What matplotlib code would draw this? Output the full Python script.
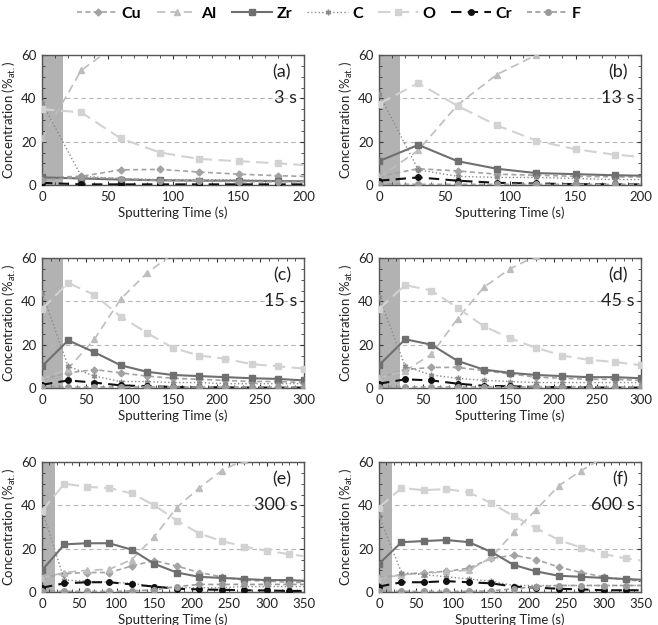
import matplotlib
matplotlib.use("Agg")
import matplotlib.pyplot as plt
from matplotlib.ticker import MultipleLocator

plt.rcParams['font.family'] = ['Lato', 'DejaVu Sans']

# sputtering times (last point lies just past the axis end, line gets clipped)
t_a = [0, 30, 60, 90, 120, 150, 180, 210]
t_c = [0, 30, 60, 90, 120, 150, 180, 210, 240, 270, 300]
t_e = [0, 30, 60, 90, 120, 150, 180, 210, 240, 270, 300, 330, 360]

elements = ["Cu", "Al", "Zr", "C", "O", "Cr", "F"]

panel_a = {
    "Cu": [3.5, 4, 7, 7.2, 6, 5, 4.3, 3.8],
    "Al": [21.5, 53, 66, 71, 74, 76, 77, 78],
    "Zr": [3.5, 3, 2.5, 2.2, 2, 2, 1.8, 1.7],
    "C": [38, 4, 3, 2.5, 2.5, 2.3, 2, 2],
    "O": [35, 33.5, 21.5, 15, 12, 11, 10, 8.8],
    "Cr": [1, 0.3, 0.3, 0.3, 0.3, 0.3, 0.3, 0.3],
    "F": [2.5, 3.5, 3, 2, 2, 1.5, 1.5, 1.5],
}
panel_b = {
    "Cu": [4, 7.5, 6.5, 5, 4.5, 4, 3.8, 3.6],
    "Al": [3.5, 16, 37, 51, 60, 65, 68, 70],
    "Zr": [11, 18.5, 11, 7.5, 5.5, 5, 4.5, 4.2],
    "C": [42, 7, 4, 3.5, 3.5, 3, 2.5, 2.5],
    "O": [37.5, 47, 36.5, 27.5, 20.5, 16.5, 14, 12.5],
    "Cr": [2, 3.5, 2, 1, 0.7, 0.4, 0.3, 0.3],
    "F": [0.5, 0.3, 0.3, 0.3, 0.3, 0.3, 0.3, 0.3],
}
panel_c = {
    "Cu": [4, 7, 8.5, 7, 5.5, 4.5, 4, 3.5, 3, 3, 2.5],
    "Al": [4, 9, 22.5, 41, 53, 62, 67, 70, 72, 73, 74],
    "Zr": [10, 22, 16.5, 10.5, 7.5, 6, 5.5, 5, 4.5, 4.2, 3.5],
    "C": [44, 10, 5.5, 3, 3, 2.5, 2.5, 2, 2, 2, 2],
    "O": [36.5, 48.5, 43, 33, 25.5, 18.5, 15, 13.5, 11, 10, 9],
    "Cr": [1.5, 3.5, 2.5, 1.2, 0.8, 0.5, 0.4, 0.3, 0.2, 0.2, 0.2],
    "F": [0.3, 0.3, 0.3, 0.3, 0.3, 0.3, 0.3, 0.3, 0.3, 0.3, 0.3],
}
panel_d = {
    "Cu": [4.5, 8.5, 9.5, 9.5, 8, 6.5, 5, 4.5, 4, 4, 3.5],
    "Al": [4.5, 8, 15.5, 32, 46.5, 55, 61, 66, 69, 71, 72],
    "Zr": [10.5, 22.5, 20, 12.5, 8.5, 7, 6, 5.5, 5, 5, 4.5],
    "C": [42, 10, 6, 4.5, 3.5, 3, 2.5, 2.5, 2.5, 2.5, 2.5],
    "O": [36.5, 47.5, 45, 37, 28.5, 23, 18.5, 15, 13, 12, 10.5],
    "Cr": [2, 4, 3.5, 2, 1, 0.8, 0.5, 0.4, 0.3, 0.2, 0.2],
    "F": [0.3, 0.3, 0.3, 0.3, 0.3, 0.3, 0.3, 0.3, 0.3, 0.3, 0.3],
}
panel_e = {
    "Cu": [6.5, 8.5, 9, 9, 12, 14.5, 12, 9, 7, 5.5, 5, 4.5, 4.3],
    "Al": [6.5, 9, 10, 10.5, 15, 25.5, 39, 48, 56, 61, 64, 66, 67],
    "Zr": [10, 22, 22.5, 22.5, 19.5, 13, 9, 7, 6.5, 6, 5.5, 5.5, 5],
    "C": [38, 5.5, 5, 4.5, 4, 2.5, 2, 2, 2, 2.5, 2.5, 2.5, 2.5],
    "O": [37.5, 50, 48.5, 48, 45.5, 40, 33, 27, 23.5, 21, 19, 17.5, 16],
    "Cr": [2, 4, 4.5, 4.5, 3.5, 2.5, 1.5, 1.2, 1, 0.8, 0.7, 0.5, 0.5],
    "F": [0.5, 0.3, 0.3, 0.3, 0.5, 1, 2.5, 3.5, 3.5, 3.5, 3.5, 3.5, 3.5],
}
panel_f = {
    "Cu": [6.5, 8, 9, 9.5, 11, 15.5, 17, 15, 11.5, 9, 7, 5.5, 5],
    "Al": [6, 8, 8.5, 9.5, 10, 16, 27.5, 38, 49, 56, 62, 65, 67],
    "Zr": [13, 23, 23.5, 24, 23, 18.5, 12.5, 9.5, 7.5, 7, 6.5, 6, 5.5],
    "C": [35, 9, 8, 7, 6, 5, 3, 3, 3, 3, 3, 3, 3],
    "O": [39, 48, 47, 47.5, 46, 41, 35, 29.5, 24, 20.5, 17.5, 15.5, 14],
    "Cr": [2.5, 4.5, 4.5, 5, 4.5, 4, 2.5, 2, 1.5, 1.2, 0.8, 0.8, 0.8],
    "F": [0.3, 0.3, 0.3, 0.3, 0.3, 0.5, 1.5, 2.5, 3, 3, 3, 3, 3],
}

labels = ["(a)", "(b)", "(c)", "(d)", "(e)", "(f)"]
times = ["3 s", "13 s", "15 s", "45 s", "300 s", "600 s"]
xmax = [200, 200, 300, 300, 350, 350]
shade = [16, 16, 24, 24, 18, 18]

styles = {
    "Cu": dict(color="#a3a3a3", ls=(0, (3, 2)), marker="D", ms=3.5, lw=1.2),
    "Al": dict(color="#bdbdbd", ls=(0, (5, 3)), marker="^", ms=4, lw=1.2),
    "Zr": dict(color="#6f6f6f", ls="-", marker="s", ms=4.5, lw=1.5),
    "C": dict(color="#8a8a8a", ls=":", marker=(6, 2, 0), ms=4, lw=1.0),
    "O": dict(color="#d2d2d2", ls=(0, (6, 3)), marker="s", ms=5, lw=1.5),
    "Cr": dict(color="#111111", ls=(0, (5, 3)), marker="o", ms=4, lw=1.5),
    "F": dict(color="#9a9a9a", ls=(0, (3, 2)), marker="o", ms=4, lw=1.2),
}

W, H = 658, 625
fig = plt.figure(figsize=(W / 100, H / 100), dpi=100)

lefts = [42, 379]
tops = [55, 258, 462]
aw, ah = 262, 130

data = [(t_a, panel_a), (t_a, panel_b), (t_c, panel_c),
        (t_c, panel_d), (t_e, panel_e), (t_e, panel_f)]

axes = []
for i, (t, pan) in enumerate(data):
    l = lefts[i % 2]
    tp = tops[i // 2]
    ax = fig.add_axes([l / W, 1 - (tp + ah) / H, aw / W, ah / H])
    axes.append(ax)

    ax.axvspan(0, shade[i], color="#b2b2b2", zorder=0, lw=0)
    for el in elements:
        ax.plot(t, pan[el], label=el, zorder=3, **styles[el])

    ax.set_xlim(0, xmax[i])
    ax.set_ylim(0, 60)
    ax.xaxis.set_major_locator(MultipleLocator(50))
    ax.xaxis.set_minor_locator(MultipleLocator(10))
    ax.yaxis.set_major_locator(MultipleLocator(20))
    ax.yaxis.set_minor_locator(MultipleLocator(5))
    ax.yaxis.grid(True, color="#b5b5b5", ls=(0, (4, 3)), lw=0.8)
    ax.set_axisbelow(True)
    ax.tick_params(which="both", direction="in", top=True, right=True,
                   labelsize=9.5, colors="#333333", labelcolor="#222222")
    ax.tick_params(which="major", length=3, pad=4)
    ax.tick_params(which="minor", length=2)
    for s in ax.spines.values():
        s.set_color("#555555")
        s.set_linewidth(1.0)

    ax.set_xlabel("Sputtering Time (s)", fontsize=9.5, color="#222222", labelpad=3)
    ax.set_ylabel("Concentration (%$_{\\mathregular{at.}}$)", fontsize=9.5,
                  color="#222222", labelpad=2)

    ax.text(0.95, 0.87, labels[i], transform=ax.transAxes, ha="right",
            va="center", fontsize=13, color="#222222")
    ax.text(0.975, 0.67, times[i], transform=ax.transAxes, ha="right",
            va="center", fontsize=13, color="#222222")

handles, names = axes[0].get_legend_handles_labels()
fig.legend(handles, names, loc="upper center", bbox_to_anchor=(0.5, 1.012),
           ncol=7, frameon=False, prop=dict(weight="bold", size=11.5),
           handlelength=2.55, handletextpad=0.25, columnspacing=0.95)

fig.savefig("out.png", dpi=100)
